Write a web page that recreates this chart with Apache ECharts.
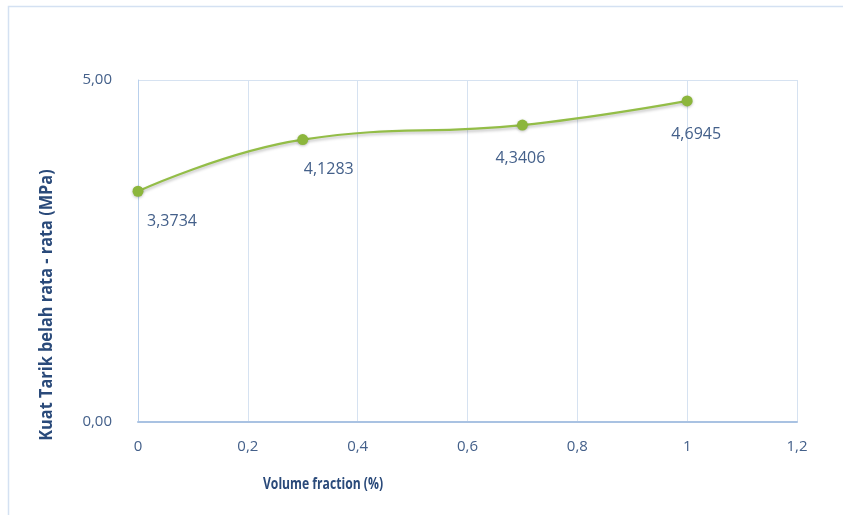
<!DOCTYPE html>
<html>
<head>
<meta charset="utf-8">
<script src="https://cdn.jsdelivr.net/npm/echarts@6/dist/echarts.min.js"></script>
<style>
  html, body { margin: 0; padding: 0; background: #ffffff; }
  #chart { width: 843px; height: 515px; }
</style>
</head>
<body>
<div id="chart"></div>
<script>
// Split tensile strength vs. fibre volume fraction
const volumeFraction = [0, 0.3, 0.7, 1];
const tensileStrength = [3.3734, 4.1283, 4.3406, 4.6945];
const valueLabels = ['3,3734', '4,1283', '4,3406', '4,6945'];
const xTitle = 'Volume fraction (%)';
const yTitle = 'Kuat Tarik belah rata - rata (MPa)';

const FONT = "'Open Sans', sans-serif";
const labelColor = '#44608a';
const titleColor = '#2a4a7a';

// per-point label nudges (px) so labels sit below and slightly right of markers
const labelNudge = [[34, 30], [26, 30], [-2, 33], [9, 34]];

const chart = echarts.init(document.getElementById('chart'));
chart.setOption({
  animation: false,
  grid: { left: 138, right: 46, top: 80, bottom: 93 },
  xAxis: {
    type: 'value', min: 0, max: 1.2, interval: 0.2,
    axisLine: { show: true, lineStyle: { color: '#a9c2e2', width: 2 } },
    axisTick: { show: false },
    splitLine: { show: true, lineStyle: { color: '#d6e2f1', width: 1 } },
    axisLabel: {
      color: labelColor, fontFamily: FONT, fontSize: 15, margin: 17,
      formatter: v => String(+v.toFixed(1)).replace('.', ',')
    }
  },
  yAxis: {
    type: 'value', min: 0, max: 5, interval: 5,
    axisLine: { show: true, lineStyle: { color: '#b9d0ec', width: 1 } },
    axisTick: { show: false },
    splitLine: { show: true, lineStyle: { color: '#d6e2f1', width: 1 } },
    axisLabel: {
      color: labelColor, fontFamily: FONT, fontSize: 15, margin: 26,
      formatter: v => v.toFixed(2).replace('.', ',')
    }
  },
  graphic: [
    {
      type: 'rect', silent: true, z: -1,
      shape: { x: 8.5, y: 6.5, width: 900, height: 600 },
      style: { fill: 'none', stroke: '#d4e1f2', lineWidth: 1.5 }
    },
    {
      type: 'text', x: 323, y: 484, scaleX: 0.76,
      style: { text: xTitle, fill: titleColor, font: "bold 16px " + FONT, align: 'center', verticalAlign: 'middle' }
    },
    {
      type: 'text', x: 47, y: 305, rotation: Math.PI / 2, scaleX: 0.96,
      style: { text: yTitle, fill: titleColor, font: "bold 17px " + FONT, align: 'center', verticalAlign: 'middle' }
    }
  ],
  series: [{
    type: 'line',
    smooth: 0.45,
    data: volumeFraction.map((x, i) => ({
      value: [x, tensileStrength[i]],
      label: { offset: labelNudge[i] }
    })),
    symbol: 'circle', symbolSize: 11,
    itemStyle: { color: '#8cb63c', shadowColor: 'rgba(0,0,0,0.25)', shadowBlur: 3, shadowOffsetY: 1 },
    lineStyle: { color: '#93bd47', width: 2.2, shadowColor: 'rgba(0,0,0,0.25)', shadowBlur: 3, shadowOffsetY: 2 },
    label: {
      show: true, position: 'inside',
      color: labelColor, fontFamily: FONT, fontSize: 16,
      formatter: p => valueLabels[p.dataIndex]
    }
  }]
});
</script>
</body>
</html>
